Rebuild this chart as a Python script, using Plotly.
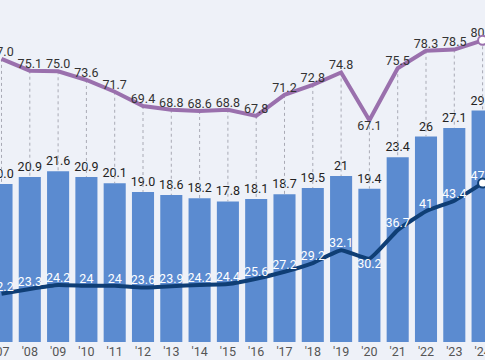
import plotly.graph_objects as go

years = ["'07", "'08", "'09", "'10", "'11", "'12", "'13", "'14", "'15", "'16",
         "'17", "'18", "'19", "'20", "'21", "'22", "'23", "'24"]
bar_vals = [20.0, 20.9, 21.6, 20.9, 20.1, 19.0, 18.6, 18.2, 17.8, 18.1,
            18.7, 19.5, 21, 19.4, 23.4, 26, 27.1, 29.3]
bar_text = ["20.0", "20.9", "21.6", "20.9", "20.1", "19.0", "18.6", "18.2", "17.8", "18.1",
            "18.7", "19.5", "21", "19.4", "23.4", "26", "27.1", "29.3"]
dark_vals = [22.2, 23.3, 24.2, 24, 24, 23.6, 23.9, 24.2, 24.4, 25.6,
             27.2, 29.2, 32.1, 30.2, 36.7, 41, 43.4, 47.4]
dark_text = ["22.2", "23.3", "24.2", "24", "24", "23.6", "23.9", "24.2", "24.4", "25.6",
             "27.2", "29.2", "32.1", "30.2", "36.7", "41", "43.4", "47.4"]
purple_vals = [77.0, 75.1, 75.0, 73.6, 71.7, 69.4, 68.8, 68.6, 68.8, 67.8,
               71.2, 72.8, 74.8, 67.1, 75.5, 78.3, 78.5, 80.0]
purple_text = ["77.0", "75.1", "75.0", "73.6", "71.7", "69.4", "68.8", "68.6", "68.8", "67.8",
               "71.2", "72.8", "74.8", "67.1", "75.5", "78.3", "78.5", "80.0"]
# labels placed below the point (the 2020 dip)
below = ["'20"]

FAM = "Roboto, sans-serif"
def F(size, color):
    return dict(family=FAM, size=size, color=color)

BG = "#eef1f8"
BAR_C = "#5b8bd0"
DARK_C = "#0f3e75"
PURP_C = "#9a70ad"

r_bar = [0, 43.29]
r_dark = [11.21, 89.11]
r_purp = [31.34, 86.5]

def bar_to_purp(v):
    f = (v - r_bar[0]) / (r_bar[1] - r_bar[0])
    return r_purp[0] + f * (r_purp[1] - r_purp[0])

n = len(years)
idx = list(range(n))
tpos = ["bottom center" if y in below else "top center" for y in years]

dash_x, dash_y = [], []
for i in idx:
    dash_x += [i, i, None]
    dash_y += [purple_vals[i], bar_to_purp(bar_vals[i]), None]

fig = go.Figure()
fig.add_trace(go.Bar(
    x=idx, y=bar_vals, marker_color=BAR_C, marker_line_width=0,
    text=bar_text, textposition="outside", cliponaxis=False, constraintext="none",
    textfont=F(12.5, "#222222"), yaxis="y"))
fig.add_trace(go.Scatter(
    x=dash_x, y=dash_y, mode="lines", yaxis="y3",
    line=dict(color="#a9aab5", width=1, dash="dot"), hoverinfo="skip"))
fig.add_trace(go.Scatter(
    x=idx, y=dark_vals, mode="lines+text", yaxis="y2",
    line=dict(color=DARK_C, width=4, shape="spline", smoothing=0.4),
    text=dark_text, textposition=tpos, cliponaxis=False,
    textfont=F(12.5, "#ffffff")))
fig.add_trace(go.Scatter(
    x=[idx[-1]], y=[dark_vals[-1]], mode="markers", yaxis="y2",
    marker=dict(size=9, color="white", line=dict(color=DARK_C, width=2)), cliponaxis=False))
fig.add_trace(go.Scatter(
    x=idx, y=purple_vals, mode="lines+text", yaxis="y3",
    line=dict(color=PURP_C, width=4),
    text=purple_text, textposition=tpos, cliponaxis=False,
    textfont=F(12.5, "#333333")))
fig.add_trace(go.Scatter(
    x=[idx[-1]], y=[purple_vals[-1]], mode="markers", yaxis="y3",
    marker=dict(size=9, color="white", line=dict(color=PURP_C, width=2)), cliponaxis=False))

fig.update_layout(
    width=485, height=360, margin=dict(l=0, r=0, t=0, b=18),
    paper_bgcolor=BG, plot_bgcolor=BG, showlegend=False, bargap=0.22,
    xaxis=dict(range=[-0.053, 17.085], tickmode="array", tickvals=idx, ticktext=years,
               showgrid=False, zeroline=False, showline=False, ticks="", ticklen=0,
               automargin=False, ticklabeloverflow="allow",
               tickfont=F(12.5, "#555555")),
    yaxis=dict(range=r_bar, visible=False, showgrid=False),
    yaxis2=dict(range=r_dark, overlaying="y", visible=False, showgrid=False),
    yaxis3=dict(range=r_purp, overlaying="y", visible=False, showgrid=False),
)
fig.write_html("out.html", config={"displayModeBar": False},
               post_script="document.body.style.margin='0';document.body.style.background='%s';" % BG)
